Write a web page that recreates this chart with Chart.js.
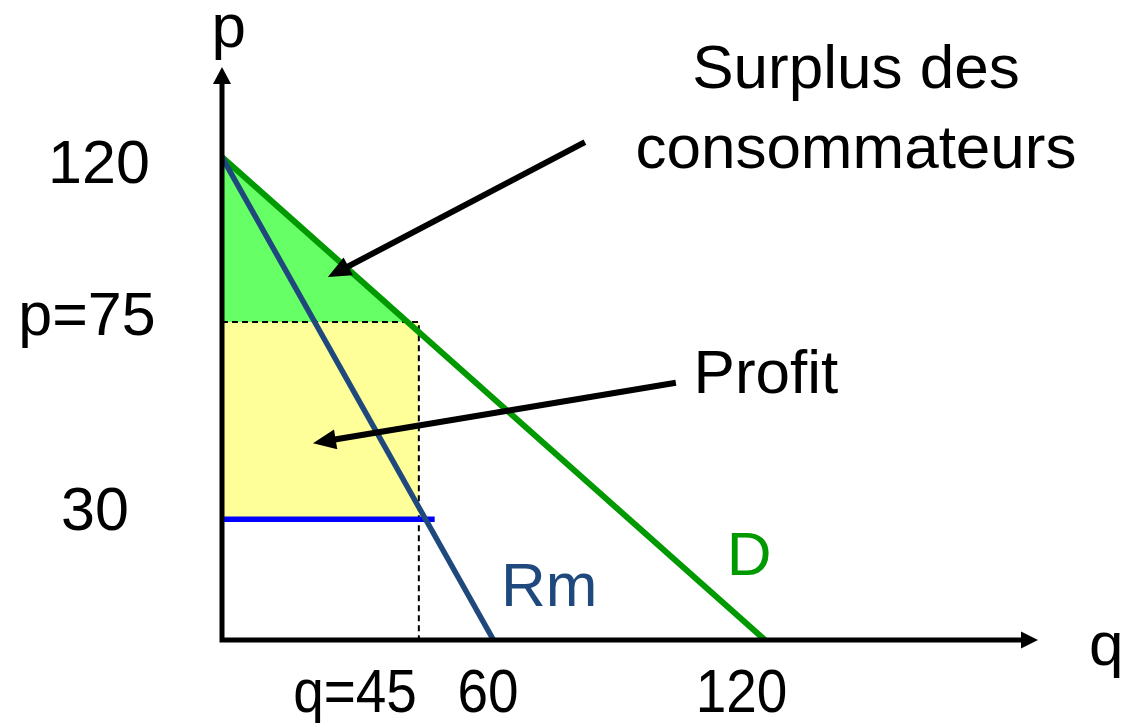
<!DOCTYPE html>
<html>
<head>
<meta charset="utf-8">
<script src="https://cdn.jsdelivr.net/npm/chart.js@4"></script>
<style>
  html, body { margin: 0; background: #fff; }
  #wrap { width: 1126px; height: 723px; }
</style>
</head>
<body>
<div id="wrap"><canvas id="chart"></canvas></div>
<script>
const demandQ = [0, 120];
const demandP = [120, 0];
const rmQ = [0, 60];
const rmP = [120, 0];
const costQ = [0, 47];
const costP = [30, 30];
// equilibrium where the picture draws it (it is labelled q=45, p=75)
const eqQ = 43.5;
const eqP = 79;
const surplusQ = [0, 41];
const surplusP = [120, eqP];
const profitQ = [0, eqQ];
const profitP = [eqP, eqP];
const guideQ = [0, eqQ, eqQ];
const guideP = [eqP, eqP, 0];
const xTickValues = [eqQ, 60, 120];
const xTickLabels = ['q=45', '60', '120'];
const yTickValues = [120, eqP, 30];
const yTickLabels = ['120', 'p=75', '30'];

const FONT = '"Liberation Sans", Arial, sans-serif';
const RM_COLOR = '#1f497d';
const D_COLOR = '#009900';

// label anchors in data units
const notes = [
  { text: 'Surplus des', q: 140.1, p: 137.1, color: '#000' },
  { text: 'consommateurs', q: 140.1, p: 117.3, color: '#000' },
  { text: 'Profit', q: 120.2, p: 61.4, color: '#000' },
  { text: 'Rm', q: 72.3, p: 8.4, color: RM_COLOR },
  { text: 'D', q: 116.5, p: 16.1, color: D_COLOR },
  { text: 'p', q: 1.5, p: 147.3, color: '#000' },
  { text: 'q', q: 195.4, p: -6.2, color: '#000' }
];
const pointers = [
  { from: [80.2, 123.7], to: [23.4, 90.2] },
  { from: [100.3, 63.9], to: [20.1, 48.9] }
];
const xTickStyle = [{ align: 'right', dx: -2 }, { align: 'center', dx: -5.5 }, { align: 'center', dx: -23.5 }];
const yTickStyle = [{ dx: -123, dy: 26 }, { dx: -135, dy: 13 }, { dx: -127, dy: 11 }];

const pts = (xs, ys) => xs.map((x, i) => ({ x, y: ys[i] }));

function head(ctx, tx, ty, dx, dy, len, half) {
  const bx = tx - dx * len, by = ty - dy * len;
  ctx.beginPath();
  ctx.moveTo(tx, ty);
  ctx.lineTo(bx - dy * half, by + dx * half);
  ctx.lineTo(bx + dy * half, by - dx * half);
  ctx.closePath();
  ctx.fill();
}

const extras = {
  id: 'extras',
  afterDatasetsDraw(chart) {
    const { ctx, chartArea: a, scales: { x, y } } = chart;
    const ox = x.getPixelForValue(0), oy = y.getPixelForValue(0);
    ctx.save();
    ctx.strokeStyle = '#000';
    ctx.fillStyle = '#000';
    ctx.lineWidth = 5;
    ctx.beginPath();
    ctx.moveTo(ox, oy + 2.5);
    ctx.lineTo(ox, a.top + 12);
    ctx.moveTo(ox - 2.5, oy);
    ctx.lineTo(a.right - 12, oy);
    ctx.stroke();
    head(ctx, ox, a.top - 1.5, 0, -1, 17, 9);
    head(ctx, a.right + 1.5, oy, 1, 0, 17, 8.5);

    ctx.lineWidth = 6;
    pointers.forEach(pt => {
      const x0 = x.getPixelForValue(pt.from[0]), y0 = y.getPixelForValue(pt.from[1]);
      const x1 = x.getPixelForValue(pt.to[0]), y1 = y.getPixelForValue(pt.to[1]);
      const len = Math.hypot(x1 - x0, y1 - y0);
      const dx = (x1 - x0) / len, dy = (y1 - y0) / len;
      ctx.beginPath();
      ctx.moveTo(x0, y0);
      ctx.lineTo(x1 - dx * 16, y1 - dy * 16);
      ctx.stroke();
      head(ctx, x1, y1, dx, dy, 23, 10);
    });
    ctx.restore();
  },
  afterDraw(chart) {
    const { ctx, scales: { x, y } } = chart;
    const ox = x.getPixelForValue(0), oy = y.getPixelForValue(0);
    ctx.save();
    ctx.textBaseline = 'alphabetic';
    ctx.fillStyle = '#000';
    ctx.font = '61px ' + FONT;
    // the q labels are a little narrower in the original
    xTickValues.forEach((v, i) => {
      ctx.save();
      ctx.translate(x.getPixelForValue(v) + xTickStyle[i].dx, oy + 72);
      ctx.scale(0.9, 1);
      ctx.textAlign = xTickStyle[i].align;
      ctx.fillText(xTickLabels[i], 0, 0);
      ctx.restore();
    });
    ctx.textAlign = 'center';
    yTickValues.forEach((v, i) => {
      ctx.fillText(yTickLabels[i], ox + yTickStyle[i].dx, y.getPixelForValue(v) + yTickStyle[i].dy);
    });
    ctx.font = '62px ' + FONT;
    notes.forEach(n => {
      ctx.fillStyle = n.color;
      ctx.fillText(n.text, x.getPixelForValue(n.q), y.getPixelForValue(n.p));
    });
    ctx.restore();
  }
};

new Chart(document.getElementById('chart'), {
  type: 'scatter',
  data: {
    datasets: [
      { data: pts(rmQ, rmP), showLine: true, borderColor: RM_COLOR, borderWidth: 5.5, order: 1 },
      { data: pts(demandQ, demandP), showLine: true, borderColor: D_COLOR, borderWidth: 6, order: 2 },
      { data: pts(costQ, costP), showLine: true, borderColor: '#0000ff', borderWidth: 5.5, order: 3 },
      { data: pts(guideQ, guideP), showLine: true, borderColor: '#000', borderWidth: 2, borderDash: [6, 4], order: 4 },
      { data: pts(surplusQ, surplusP), showLine: true, borderWidth: 0, backgroundColor: '#66ff66', fill: { value: eqP }, order: 5 },
      { data: pts(profitQ, profitP), showLine: true, borderWidth: 0, backgroundColor: '#ffff99', fill: { value: 30 }, order: 6 }
    ]
  },
  options: {
    responsive: true,
    maintainAspectRatio: false,
    animation: false,
    events: [],
    elements: { point: { radius: 0 } },
    layout: { padding: { left: 222, right: 89.5, top: 68.5, bottom: 83 } },
    scales: {
      x: { type: 'linear', min: 0, max: 180, display: false },
      y: { type: 'linear', min: 0, max: 142, display: false }
    },
    plugins: { legend: { display: false }, tooltip: { enabled: false } }
  },
  plugins: [extras]
});
</script>
</body>
</html>
